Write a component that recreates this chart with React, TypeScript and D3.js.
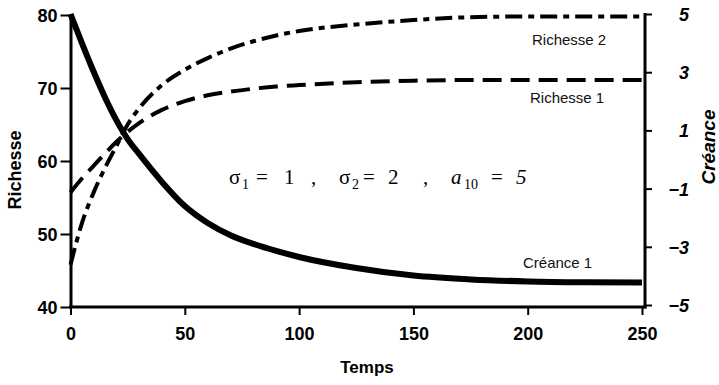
import * as d3 from "d3";
import React, { useEffect, useRef } from "react";

// temps (abscisse commune)
const temps = [0, 5, 10, 15, 20, 25, 30, 40, 50, 60, 70, 80, 90, 100, 125, 150, 175, 200, 225, 250];
// Richesse 1 (axe gauche)
const richesse1 = [55.7, 57.6, 59.3, 61.0, 62.6, 64.0, 65.2, 67.0, 68.2, 69.0, 69.5, 69.9, 70.2, 70.4, 70.8, 71.0, 71.1, 71.1, 71.1, 71.1];
// Richesse 2 (axe gauche)
const richesse2 = [45.8, 51.5, 55.6, 59.0, 62.0, 65.0, 67.2, 70.4, 72.5, 74.1, 75.4, 76.4, 77.2, 77.8, 78.7, 79.3, 79.7, 79.8, 79.8, 79.8];
// Créance 1 (axe droit)
const creance1 = [5.0, 4.0, 3.04, 2.15, 1.36, 0.7, 0.19, -0.77, -1.6, -2.18, -2.6, -2.9, -3.14, -3.35, -3.73, -3.99, -4.12, -4.19, -4.22, -4.23];

const xTicks = [0, 50, 100, 150, 200, 250];
const leftTicks = [40, 50, 60, 70, 80];
const rightTicks = [-5, -3, -1, 1, 3, 5];

const FONT = "'Liberation Sans', Arial, Helvetica, sans-serif";
const SERIF = "'Liberation Serif', 'Times New Roman', serif";

export default function App() {
  const ref = useRef<SVGSVGElement | null>(null);

  useEffect(() => {
    const svg = d3.select(ref.current);
    svg.selectAll(".chart").remove();
    const root = svg.append("g").attr("class", "chart");

    const x = d3.scaleLinear().domain([0, 250]).range([70.5, 642]);
    const yL = d3.scaleLinear().domain([40, 80]).range([307, 15]);
    const yR = d3.scaleLinear().domain([-5, 5]).range([305, 14]);

    const styleAxis = (g: any) => {
      g.select(".domain").attr("stroke", "#000").attr("stroke-width", 3);
      g.selectAll(".tick line").attr("stroke", "#000").attr("stroke-width", 2);
      g.selectAll("text")
        .attr("fill", "#000")
        .attr("font-family", FONT)
        .attr("font-weight", "bold")
        .attr("font-size", 18);
    };

    // axe gauche
    const gl = root
      .append("g")
      .attr("transform", "translate(70.5,0)")
      .call(d3.axisLeft(yL).tickValues(leftTicks).tickSize(10).tickSizeOuter(0).tickPadding(3));
    styleAxis(gl);
    gl.selectAll("text").attr("dy", "0.36em");

    // axe bas
    const gb = root
      .append("g")
      .attr("transform", "translate(0,307)")
      .call(d3.axisBottom(x).tickValues(xTicks).tickSize(8).tickSizeOuter(0).tickPadding(12));
    styleAxis(gb);
    gb.select(".domain").attr("d", "M69,0H646.5");

    // axe droit
    const gr = root
      .append("g")
      .attr("transform", "translate(645,0)")
      .call(
        d3
          .axisRight(yR)
          .tickValues(rightTicks)
          .tickSize(7)
          .tickSizeOuter(0)
          .tickFormat((d: any) => (d < 0 ? "\u2212" + Math.abs(d) : String(d)))
      );
    styleAxis(gr);
    gr.select(".domain").attr("d", "M0,13V308.5");
    gr.selectAll("text")
      .attr("text-anchor", "end")
      .attr("x", 44)
      .attr("dy", "0.36em")
      .attr("font-style", "italic");

    const lineL = (vals: number[]) =>
      d3
        .line<number>()
        .x((_, i) => x(temps[i]))
        .y((d) => yL(d))
        .curve(d3.curveMonotoneX)(vals);

    const lineR = d3
      .line<number>()
      .x((_, i) => x(temps[i]))
      .y((d) => yR(d))
      .curve(d3.curveMonotoneX);

    root
      .append("path")
      .attr("d", lineL(richesse1) as string)
      .attr("fill", "none")
      .attr("stroke", "#000")
      .attr("stroke-width", 4)
      .attr("stroke-dasharray", "19,9");

    root
      .append("path")
      .attr("d", lineL(richesse2) as string)
      .attr("fill", "none")
      .attr("stroke", "#000")
      .attr("stroke-width", 4)
      .attr("stroke-dasharray", "17,6,6,6");

    root
      .append("path")
      .attr("d", lineR(creance1) as string)
      .attr("fill", "none")
      .attr("stroke", "#000")
      .attr("stroke-width", 6);

    // étiquettes des courbes
    const labels = [
      { t: "Richesse 2", x: 532, y: 45 },
      { t: "Richesse 1", x: 530, y: 103 },
      { t: "Créance 1", x: 523, y: 268 },
    ];
    root
      .selectAll(".lab")
      .data(labels)
      .enter()
      .append("text")
      .attr("x", (d) => d.x)
      .attr("y", (d) => d.y)
      .attr("font-family", FONT)
      .attr("font-size", 15)
      .attr("fill", "#111")
      .text((d) => d.t);

    // titres d'axes
    root
      .append("text")
      .attr("x", 367)
      .attr("y", 373)
      .attr("text-anchor", "middle")
      .attr("font-family", FONT)
      .attr("font-weight", "bold")
      .attr("font-size", 17)
      .text("Temps");

    root
      .append("text")
      .attr("transform", "translate(21,170) rotate(-90)")
      .attr("text-anchor", "middle")
      .attr("font-family", FONT)
      .attr("font-weight", "bold")
      .attr("font-size", 18)
      .text("Richesse");

    root
      .append("text")
      .attr("transform", "translate(715,147) rotate(-90)")
      .attr("text-anchor", "middle")
      .attr("font-family", FONT)
      .attr("font-weight", "bold")
      .attr("font-style", "italic")
      .attr("font-size", 19)
      .text("Créance");
  }, []);

  const sub = { fontSize: 14 } as const;

  return (
    <div
      style={{
        position: "absolute",
        left: 0,
        top: 0,
        width: 719,
        height: 385,
        overflow: "hidden",
        background: "#fff",
      }}
    >
      <svg ref={ref} width={719} height={385} style={{ display: "block" }}>
        <text fontFamily={SERIF} fontSize={21} y={184} fill="#000">
          <tspan x={229}>σ</tspan>
          <tspan x={242} dy={5} style={sub}>1</tspan>
          <tspan x={256} dy={-5}>=</tspan>
          <tspan x={284}>1</tspan>
          <tspan x={311}>,</tspan>
          <tspan x={339}>σ</tspan>
          <tspan x={352} dy={5} style={sub}>2</tspan>
          <tspan x={363} dy={-5}>=</tspan>
          <tspan x={388}>2</tspan>
          <tspan x={423}>,</tspan>
          <tspan x={451} fontStyle="italic">a</tspan>
          <tspan x={464} dy={5} style={sub}>10</tspan>
          <tspan x={491} dy={-5}>=</tspan>
          <tspan x={516} fontStyle="italic">5</tspan>
        </text>
      </svg>
    </div>
  );
}
